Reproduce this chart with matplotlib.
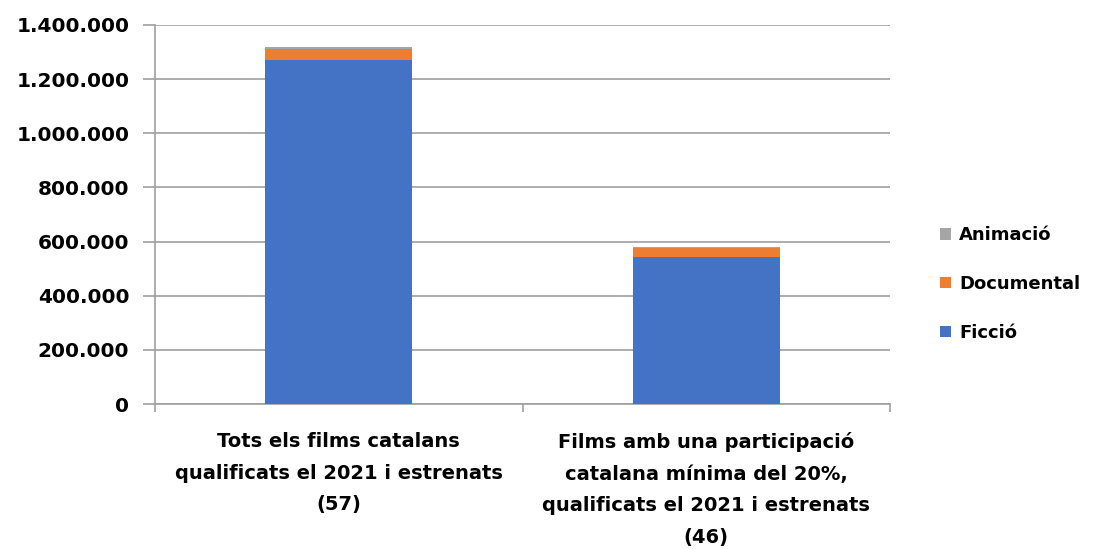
import numpy as np
import matplotlib.pyplot as plt
from matplotlib.ticker import FuncFormatter

categories = ["Tots els films catalans\nqualificats el 2021 i estrenats\n(57)",
              "Films amb una participació\ncatalana mínima del 20%,\nqualificats el 2021 i estrenats\n(46)"]
ficcio = [1271000, 542000]
documental = [40000, 33000]
animacio = [6000, 6000]

colors = {'Ficció': '#4472C4', 'Documental': '#ED7D31', 'Animació': '#A5A5A5'}

fig = plt.figure(figsize=(11, 5.49), dpi=100)
ax = fig.add_axes([155/1100, 1 - 404/549, 735/1100, 379/549])

x = np.arange(len(categories))
w = 0.4
b1 = ax.bar(x, ficcio, w, color=colors['Ficció'], label='Ficció', zorder=3)
b2 = ax.bar(x, documental, w, bottom=ficcio, color=colors['Documental'], label='Documental', zorder=3)
bottom2 = [a + b for a, b in zip(ficcio, documental)]
b3 = ax.bar(x, animacio, w, bottom=bottom2, color=colors['Animació'], label='Animació', zorder=3)

ax.set_xlim(-0.5, 1.5)
ax.set_ylim(0, 1400000)
ax.set_yticks(np.arange(0, 1400001, 200000))
ax.yaxis.set_major_formatter(FuncFormatter(lambda v, p: f"{int(v):,}".replace(',', '.')))
ax.grid(axis='y', color='#A0A0A0', linewidth=1.2, zorder=0)

for s in ['top', 'right']:
    ax.spines[s].set_visible(False)
for s in ['left', 'bottom']:
    ax.spines[s].set_color('#A0A0A0')
    ax.spines[s].set_linewidth(1.2)

ax.set_xticks([-0.5, 0.5, 1.5], minor=False)
ax.set_xticklabels([])
ax.set_xticks(x, minor=True)
ax.set_xticklabels(categories, minor=True)
ax.tick_params(axis='x', which='major', length=6, color='#A0A0A0', width=1.2)
ax.tick_params(axis='x', which='minor', length=0, pad=20, labelsize=14)
ax.tick_params(axis='y', length=8.5, color='#A0A0A0', width=1.2, labelsize=14.5, pad=10)
for lab in ax.get_yticklabels() + ax.get_xticklabels(minor=True):
    lab.set_fontweight('bold')
    lab.set_fontfamily('DejaVu Sans')
for lab in ax.get_xticklabels(minor=True):
    lab.set_linespacing(1.85)

handles = [b3, b2, b1]
leg = fig.legend(handles, ['Animació', 'Documental', 'Ficció'], loc='center left',
                 bbox_to_anchor=(924/1100, 1 - 284/549), frameon=False,
                 prop={'weight': 'bold', 'size': 13}, handlelength=0.6, handleheight=0.6,
                 handletextpad=0.45, labelspacing=1.7)

fig.savefig('out.png', dpi=100)
